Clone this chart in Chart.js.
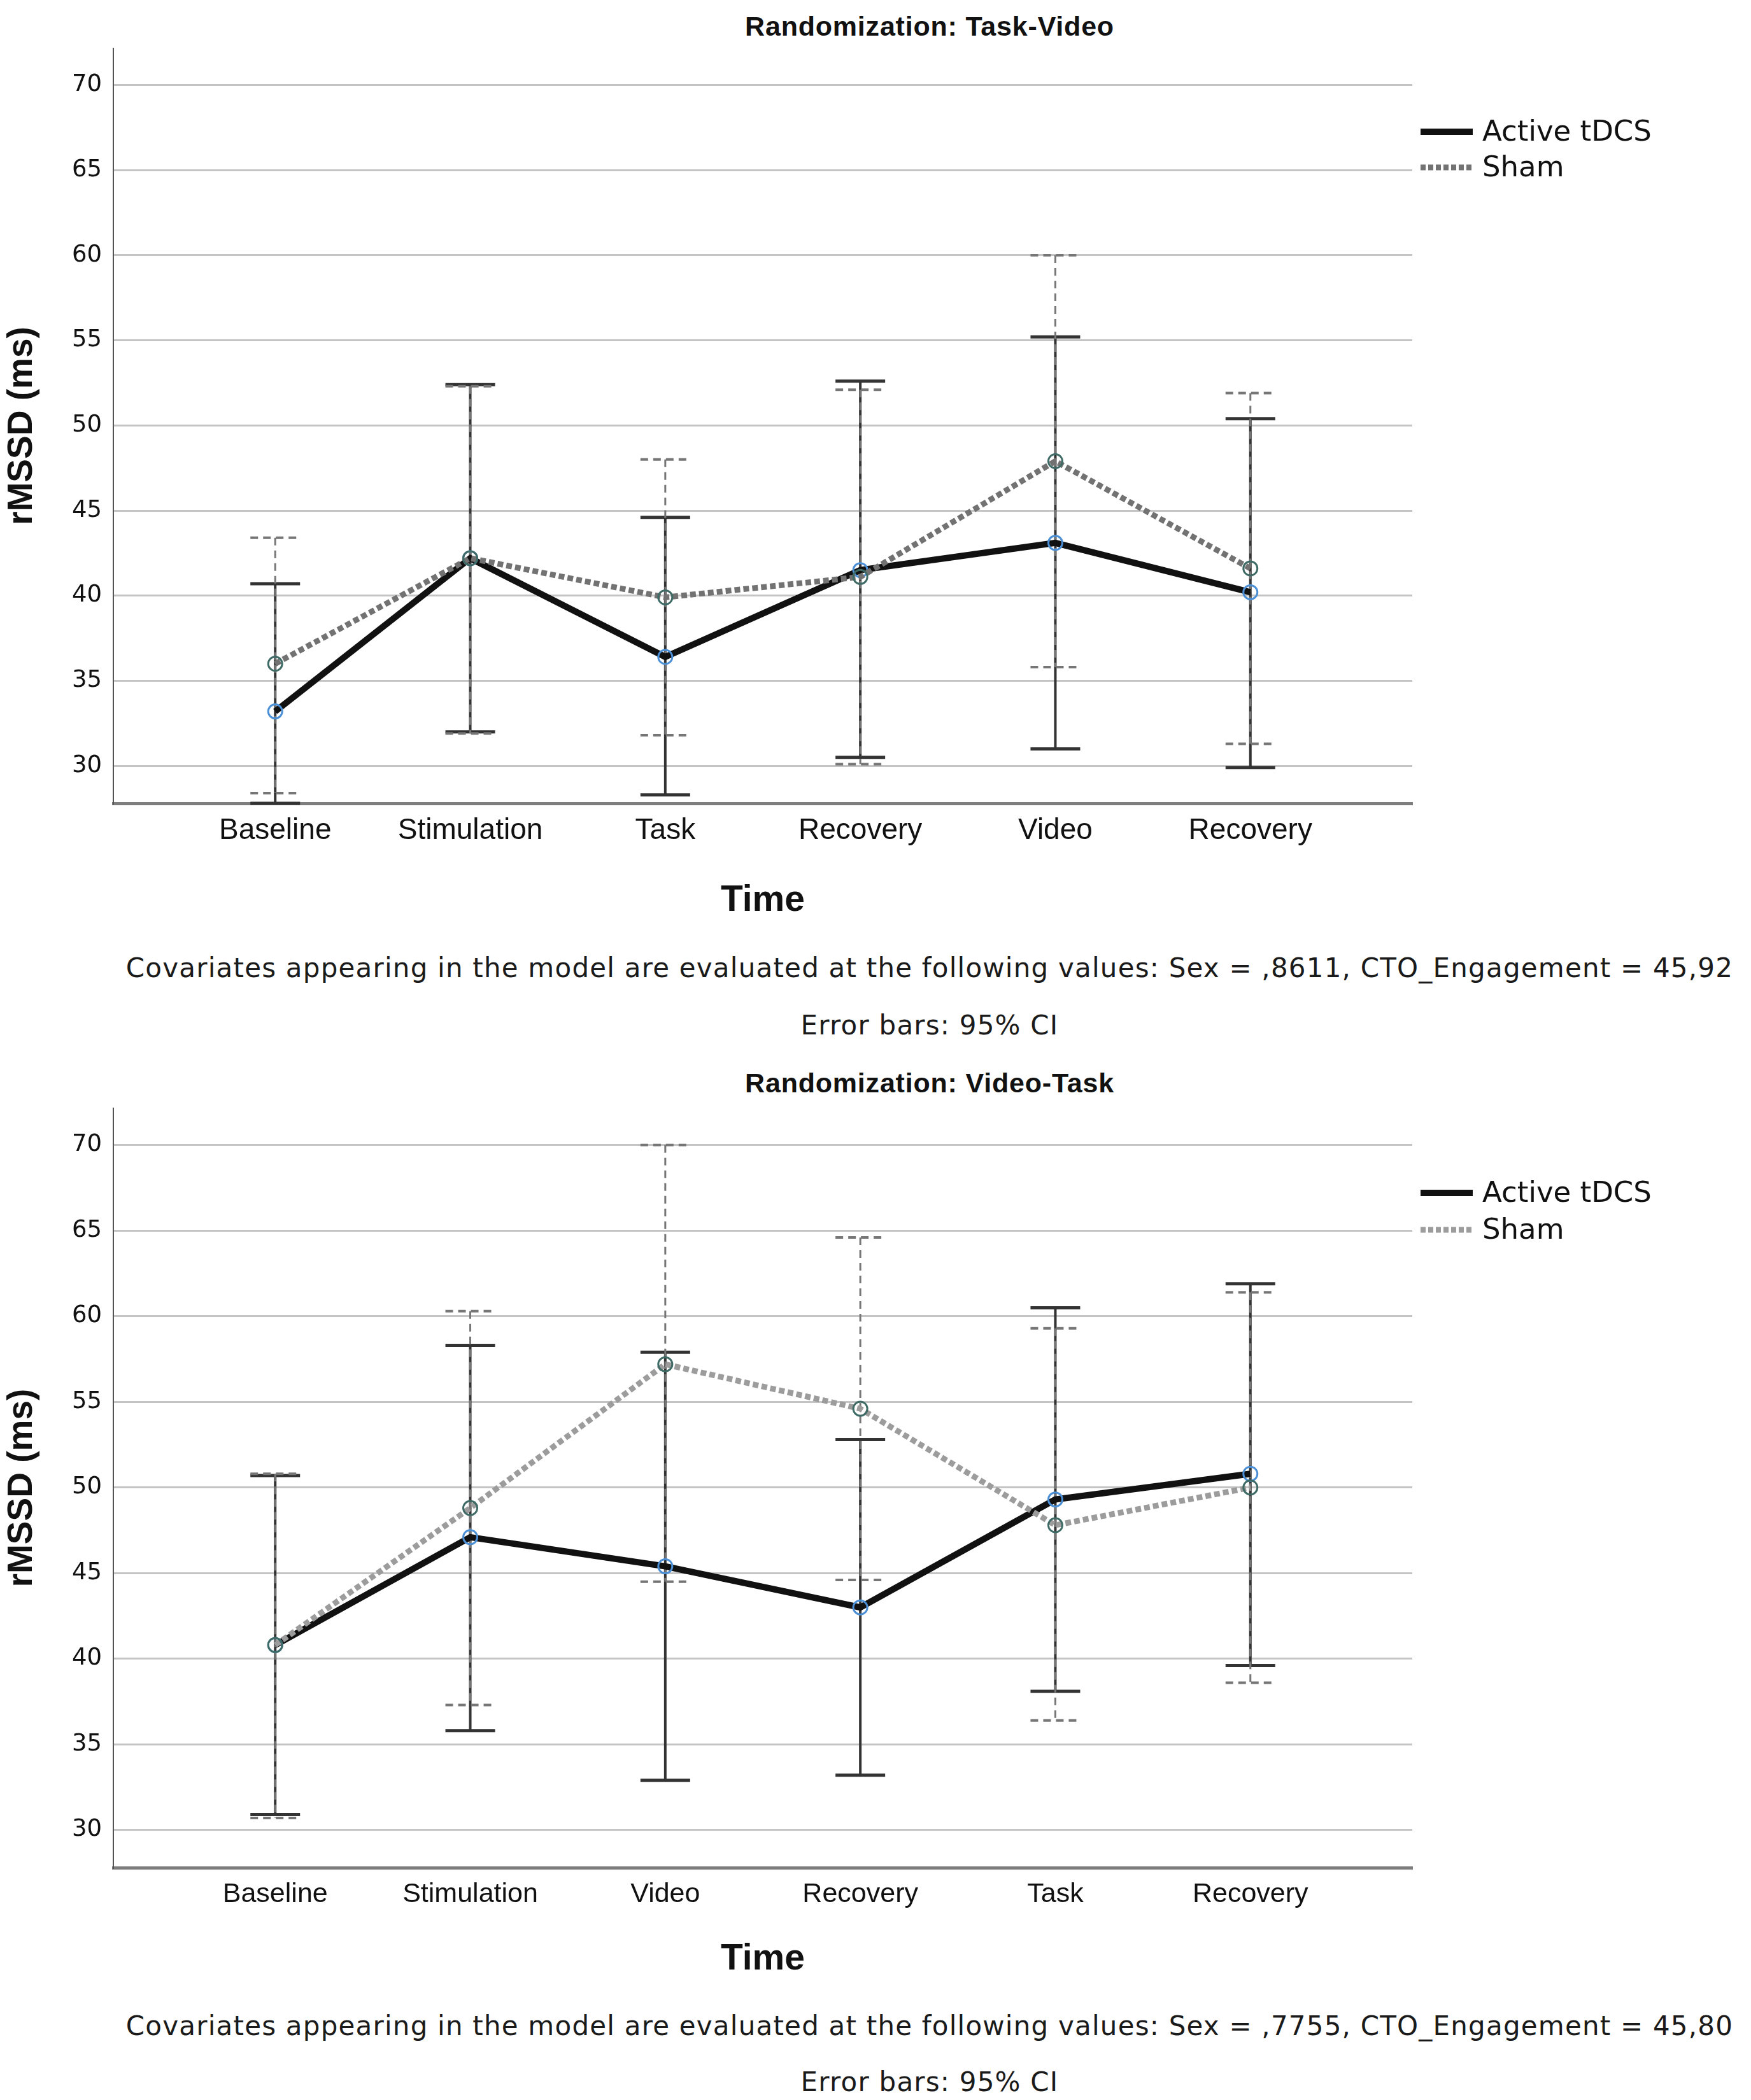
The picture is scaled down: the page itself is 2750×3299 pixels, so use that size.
<!DOCTYPE html>
<html lang="en">
<head>
<meta charset="UTF-8">
<title>rMSSD by randomization</title>
<script src="https://cdn.jsdelivr.net/npm/chart.js@4.4.3/dist/chart.umd.min.js"></script>
<style>
    * { margin: 0; padding: 0; }
    body { width: 2750px; height: 3299px; background: #fff; position: relative; overflow: hidden; }
    .box { position: absolute; left: 0; }
    .lbl {
        position: absolute;
        white-space: nowrap;
        line-height: 1;
        transform: translate(-50%, -50%);
        color: #111;
    }
    .title { font: bold 43px "Liberation Sans", sans-serif; letter-spacing: 0.8px; }
    .xtitle { font: bold 57px "Liberation Sans", sans-serif; }
    .note { font: 42px "DejaVu Sans", sans-serif; color: #1a1a1a; letter-spacing: 1.2px; }
</style>
</head>
<body>
<div class="lbl title" style="left:1460px; top:41px;">Randomization: Task-Video</div>
<div class="box" style="top:0;"><canvas id="chartTop" width="2750" height="1340"></canvas></div>
<div class="lbl xtitle" style="left:1198px; top:1411px;">Time</div>
<div class="lbl note" style="left:1460px; top:1520px;">Covariates appearing in the model are evaluated at the following values: Sex = ,8611, CTO_Engagement = 45,92</div>
<div class="lbl note" style="left:1460px; top:1610px;">Error bars: 95% CI</div>

<div class="lbl title" style="left:1460px; top:1701px;">Randomization: Video-Task</div>
<div class="box" style="top:1665px;"><canvas id="chartBottom" width="2750" height="1345"></canvas></div>
<div class="lbl xtitle" style="left:1198px; top:3074px;">Time</div>
<div class="lbl note" style="left:1460px; top:3182px;">Covariates appearing in the model are evaluated at the following values: Sex = ,7755, CTO_Engagement = 45,80</div>
<div class="lbl note" style="left:1460px; top:3270px;">Error bars: 95% CI</div>

<script>
    // time points (order differs between the two randomizations)
    const timeLabelsTop = ['Baseline', 'Stimulation', 'Task', 'Recovery', 'Video', 'Recovery'];
    const timeLabelsBottom = ['Baseline', 'Stimulation', 'Video', 'Recovery', 'Task', 'Recovery'];
    const yTicks = [30, 35, 40, 45, 50, 55, 60, 65, 70];
    const seriesNames = ['Active tDCS', 'Sham'];

    // Randomization: Task-Video
    const activeMeanTop = [33.2, 42.2, 36.4, 41.5, 43.1, 40.2];
    const activeLowTop  = [27.8, 32.0, 28.3, 30.5, 31.0, 29.9];
    const activeHighTop = [40.7, 52.4, 44.6, 52.6, 55.2, 50.4];
    const shamMeanTop = [36.0, 42.2, 39.9, 41.1, 47.9, 41.6];
    const shamLowTop  = [28.4, 31.9, 31.8, 30.1, 35.8, 31.3];
    const shamHighTop = [43.4, 52.3, 48.0, 52.1, 60.0, 51.9];

    // Randomization: Video-Task
    const activeMeanBottom = [40.8, 47.1, 45.4, 43.0, 49.3, 50.8];
    const activeLowBottom  = [30.9, 35.8, 32.9, 33.2, 38.1, 39.6];
    const activeHighBottom = [50.7, 58.3, 57.9, 52.8, 60.5, 61.9];
    const shamMeanBottom = [40.8, 48.8, 57.2, 54.6, 47.8, 50.0];
    const shamLowBottom  = [30.7, 37.3, 44.5, 44.6, 36.4, 38.6];
    const shamHighBottom = [50.8, 60.3, 70.0, 64.6, 59.3, 61.4];

    // vertical CI bars with caps, drawn under the lines
    const errorBarPlugin = {
        id: 'errorBars',
        beforeDatasetsDraw(chart) {
            const ctx = chart.ctx;
            const yScale = chart.scales.y;
            chart.data.datasets.forEach((ds, i) => {
                const meta = chart.getDatasetMeta(i);
                const st = ds.errorStyle;
                ctx.save();
                ctx.strokeStyle = st.color;
                ctx.setLineDash(st.dash);
                meta.data.forEach((pt, j) => {
                    const top = yScale.getPixelForValue(ds.ciHigh[j]);
                    const bot = yScale.getPixelForValue(ds.ciLow[j]);
                    ctx.lineWidth = st.width;
                    ctx.beginPath();
                    ctx.moveTo(pt.x, top);
                    ctx.lineTo(pt.x, bot);
                    ctx.stroke();
                    ctx.lineWidth = st.capThickness;
                    ctx.beginPath();
                    ctx.moveTo(pt.x - st.cap / 2, top);
                    ctx.lineTo(pt.x + st.cap / 2, top);
                    ctx.moveTo(pt.x - st.cap / 2, bot);
                    ctx.lineTo(pt.x + st.cap / 2, bot);
                    ctx.stroke();
                });
                ctx.restore();
            });
        }
    };

    // legend to the right of the plot, like the SPSS output
    const sideLegendPlugin = {
        id: 'sideLegend',
        afterDraw(chart, args, opts) {
            const ctx = chart.ctx;
            const x0 = chart.chartArea.right + 13;
            chart.data.datasets.forEach((ds, i) => {
                const yy = chart.chartArea.top + opts.offset + i * opts.spacing;
                ctx.save();
                ctx.strokeStyle = ds.borderColor;
                ctx.lineWidth = ds.borderWidth;
                ctx.setLineDash(ds.legendDash || []);
                ctx.beginPath();
                ctx.moveTo(x0, yy);
                ctx.lineTo(x0 + 82, yy);
                ctx.stroke();
                ctx.setLineDash([]);
                ctx.fillStyle = '#111';
                ctx.font = '45px "DejaVu Sans"';
                ctx.textBaseline = 'middle';
                ctx.fillText(ds.label, x0 + 97, yy + 2);
                ctx.restore();
            });
        }
    };

    const toPoints = arr => arr.map((v, i) => ({ x: i, y: v }));

    function makeChart(id, labels, aMean, aLow, aHigh, sMean, sLow, sHigh, cfg) {
        const ctx = document.getElementById(id).getContext('2d');
        return new Chart(ctx, {
            type: 'line',
            data: {
                datasets: [{
                    label: seriesNames[0],
                    data: toPoints(aMean),
                    ciLow: aLow,
                    ciHigh: aHigh,
                    borderColor: '#111111',
                    borderWidth: 10,
                    pointRadius: 11,
                    pointBorderWidth: 3,
                    pointBorderColor: '#4b8fd6',
                    pointBackgroundColor: 'rgba(0,0,0,0)',
                    order: 1,
                    errorStyle: { color: '#333333', width: 4, capThickness: 5, cap: 78, dash: [] }
                }, {
                    label: seriesNames[1],
                    data: toPoints(sMean),
                    ciLow: sLow,
                    ciHigh: sHigh,
                    borderColor: cfg.shamColor,
                    borderWidth: 9,
                    borderDash: [9, 5],
                    legendDash: [8, 4],
                    pointRadius: 11,
                    pointBorderWidth: 3,
                    pointBorderColor: '#3f6b66',
                    pointBackgroundColor: 'rgba(0,0,0,0)',
                    order: 0,
                    errorStyle: { color: '#767676', width: 3, capThickness: 4, cap: 78, dash: [12, 8] }
                }]
            },
            options: {
                responsive: false,
                animation: false,
                devicePixelRatio: 1,
                layout: { padding: { top: 76, right: 532, left: 0, bottom: 0 } },
                plugins: {
                    legend: { display: false },
                    tooltip: { enabled: false },
                    sideLegend: { offset: cfg.legendOffset, spacing: cfg.legendSpacing }
                },
                scales: {
                    x: {
                        type: 'linear',
                        min: -0.83,
                        max: 5.83,
                        afterBuildTicks: axis => { axis.ticks = labels.map((_, i) => ({ value: i })); },
                        afterFit: axis => { axis.height = cfg.xAxisHeight; },
                        grid: { display: false, drawTicks: false },
                        border: { display: true, color: '#7d7d7d', width: 5 },
                        ticks: {
                            autoSkip: false,
                            maxRotation: 0,
                            padding: 16,
                            color: '#111',
                            font: { family: '"Liberation Sans"', size: cfg.xTickSize },
                            callback: (v, i) => labels[i]
                        }
                    },
                    y: {
                        min: 27.8,
                        max: 72.15,
                        afterBuildTicks: axis => { axis.ticks = yTicks.map(v => ({ value: v })); },
                        afterFit: axis => { axis.width = 178; },
                        grid: { color: '#c4c4c4', lineWidth: 3, drawTicks: false },
                        border: { display: true, color: '#555', width: 2 },
                        ticks: {
                            padding: 18,
                            color: '#111',
                            font: { family: '"DejaVu Sans"', size: 37 }
                        },
                        title: {
                            display: true,
                            text: 'rMSSD (ms)',
                            color: '#111',
                            padding: 2,
                            font: { family: '"Liberation Sans"', size: 55, weight: 'bold' }
                        }
                    }
                }
            },
            plugins: [errorBarPlugin, sideLegendPlugin]
        });
    }

    makeChart('chartTop', timeLabelsTop,
        activeMeanTop, activeLowTop, activeHighTop,
        shamMeanTop, shamLowTop, shamHighTop,
        { shamColor: '#727272', xAxisHeight: 78, xTickSize: 46, legendOffset: 131, legendSpacing: 56 });

    makeChart('chartBottom', timeLabelsBottom,
        activeMeanBottom, activeLowBottom, activeHighBottom,
        shamMeanBottom, shamLowBottom, shamHighBottom,
        { shamColor: '#9c9c9c', xAxisHeight: 76, xTickSize: 43, legendOffset: 133, legendSpacing: 58 });
</script>
</body>
</html>
